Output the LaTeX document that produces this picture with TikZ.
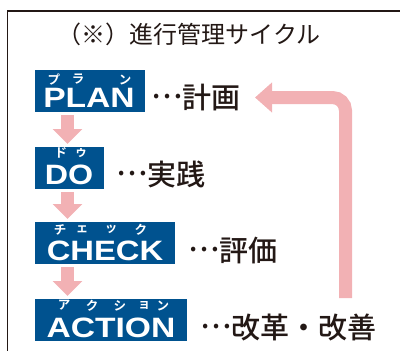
\documentclass[tikz,border=0pt]{standalone}
\usepackage{fontspec}
\usetikzlibrary{arrows.meta}
\newfontfamily\jp{Noto Sans CJK JP}
\newfontfamily\jpm{Noto Sans CJK JP Medium}
\newfontfamily\jpb{Noto Sans CJK JP Bold}
\newfontfamily\hv{Liberation Sans}
\definecolor{boxblue}{RGB}{0,82,143}
\definecolor{pinkarrow}{RGB}{242,177,180}
\definecolor{inkc}{RGB}{35,24,21}
\newcommand{\midell}{\raisebox{0.33em}{…}}
\tikzset{
  bluebox/.style={fill=boxblue, draw=none, anchor=north west, minimum height=42pt, inner sep=0pt},
  maintext/.style={anchor=base, inner sep=0pt, text=white, font=\hv\bfseries\fontsize{28}{28}\selectfont},
  ruby/.style={inner sep=0pt, text=white, font=\jpb\fontsize{12.5}{12.5}\selectfont},
  label/.style={anchor=base west, inner sep=0pt, text=inkc, font=\jpm\fontsize{29}{29}\selectfont},
  downarrow/.style={draw=pinkarrow, line width=13pt, -{Triangle[width=29pt,length=15pt]}, shorten <=3pt, shorten >=3pt},
  backarrow/.style={draw=pinkarrow, line width=13pt, rounded corners=13pt, -{Triangle[width=29pt,length=17pt]}},
  frame/.style={draw=inkc, line width=1.3pt}
}
\begin{document}
\begin{tikzpicture}[x=1pt,y=-1pt]
\useasboundingbox (0,0) rectangle (400,351);
% frame
\draw[frame] (7.5,352) -- (7.5,11) -- (401,11);
% title
\node[anchor=base, inner sep=0pt, text=inkc, font=\jp\fontsize{24}{24}\selectfont] (title) at (189,43.5) {（※）進行管理サイクル};
% boxes
\node[bluebox, minimum width=110pt] (plan) at (35,70) {};
\node[bluebox, minimum width=69pt] (do) at (35,147) {};
\node[bluebox, minimum width=140pt] (check) at (35,222) {};
\node[bluebox, minimum width=152pt] (action) at (35,299) {};
% main texts
\node[maintext] (planT) at (89,107.5) {\scalebox{1.2}[1]{PLAN}};
\node[maintext] (doT) at (69,184.5) {\scalebox{1.15}[1]{DO}};
\node[maintext] (checkT) at (105,260.5) {\scalebox{1.17}[1]{CHECK}};
\node[maintext] (actionT) at (111,337) {\scalebox{1.2}[1]{ACTION}};
% ruby
\node[ruby] (r1) at (54,79.5) {プ};
\node[ruby] (r2) at (78,79.5) {ラ};
\node[ruby] (r3) at (125,79.5) {ン};
\node[ruby] (r4) at (61,153) {ド};
\node[ruby] (r5) at (81,153) {ゥ};
\node[ruby] (r6) at (60,229.5) {チ};
\node[ruby] (r7) at (82,229.5) {ェ};
\node[ruby] (r8) at (111,229.5) {ッ};
\node[ruby] (r9) at (141,229.5) {ク};
\node[ruby] (r10) at (64,305.5) {ア};
\node[ruby] (r11) at (92,305.5) {ク};
\node[ruby] (r12) at (120,305.5) {シ};
\node[ruby] (r13) at (144,305.5) {ョ};
\node[ruby] (r14) at (163,305.5) {ン};
% labels
\node[label] (l1) at (151,108) {\midell 計画};
\node[label] (l2) at (116,185) {\midell 実践};
\node[label] (l3) at (188,261) {\midell 評価};
\node[label] (l4) at (200,338) {\midell 改革・改善};
% down arrows
\draw[downarrow] (plan.south west) ++(32.5,0) coordinate (a1s) -- (a1s |- do.north);
\draw[downarrow] (do.south west) ++(32.5,0) coordinate (a2s) -- (a2s |- check.north);
\draw[downarrow] (check.south west) ++(32.5,0) coordinate (a3s) -- (a3s |- action.north);
% return arrow
\coordinate (retstart) at (345.5,298);
\coordinate (retend) at (255,97.5);
\draw[backarrow] (retstart) |- (retend);
\end{tikzpicture}
\end{document}
